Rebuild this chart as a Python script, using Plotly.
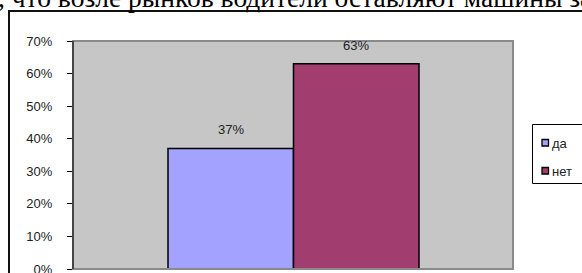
import plotly.graph_objects as go

# data
categories = ["да", "нет"]
values = [0.37, 0.63]
colors = ["#A3A3FF", "#A23D70"]
y_ticks = [0, 0.1, 0.2, 0.3, 0.4, 0.5, 0.6, 0.7]
y_tick_labels = ["0%", "10%", "20%", "30%", "40%", "50%", "60%", "70%"]
header_text = ", что возле рынков водители оставляют машины за"

W, H = 582, 273
L, R, T, B = 73, 513, 41, 269  # plot area px


def px_x(p):
    return (p - L) / (R - L)


def px_y(p):
    return (B - p) / (B - T)


FONT = dict(family="Arial, Liberation Sans", size=13, color="#222")

fig = go.Figure()
for i, (cat, val, col) in enumerate(zip(categories, values, colors)):
    fig.add_trace(go.Bar(
        x=[i], y=[val], width=1, name=cat,
        marker=dict(color=col, line=dict(color="black", width=1.5)),
        showlegend=False, hoverinfo="skip",
    ))
    fig.add_annotation(x=i, y=val, text=f"{val:.0%}", showarrow=False,
                       yanchor="bottom", yshift=9, font=FONT)

shapes = []
# outer chart border
shapes.append(dict(type="path", xref="paper", yref="paper",
                   path=f"M {px_x(9)} {px_y(280)} L {px_x(9)} {px_y(11)} L {px_x(590)} {px_y(11)}",
                   line=dict(color="#111111", width=2), layer="above"))
# plot area border (gray)
shapes.append(dict(type="rect", xref="paper", yref="paper", x0=0, x1=1, y0=0, y1=1,
                   line=dict(color="#8a8a8a", width=2), layer="above"))
# left axis line
shapes.append(dict(type="path", xref="paper", yref="paper",
                   path="M 0 0 L 0 1",
                   line=dict(color="black", width=1), layer="above"))
# legend box
shapes.append(dict(type="rect", xref="paper", yref="paper",
                   x0=px_x(532.5), x1=px_x(640), y0=px_y(124.5), y1=px_y(183.5),
                   line=dict(color="black", width=1), fillcolor="white"))
legend_y = [143, 171]
for cat, col, ly in zip(categories, colors, legend_y):
    shapes.append(dict(type="rect", xref="paper", yref="paper",
                       x0=px_x(542), x1=px_x(548.5), y0=px_y(ly - 3.5), y1=px_y(ly + 3),
                       line=dict(color="black", width=1.3), fillcolor=col))
    fig.add_annotation(xref="paper", yref="paper", x=px_x(550), y=px_y(ly),
                       xanchor="left", yanchor="middle", text=cat, showarrow=False,
                       font=FONT)

# cropped document text line at the top
fig.add_annotation(xref="paper", yref="paper", x=px_x(-4), y=px_y(15),
                   xanchor="left", yanchor="bottom", text=header_text, showarrow=False,
                   font=dict(family="Liberation Serif, Times New Roman", size=27.5, color="black"))

fig.update_layout(
    width=W, height=H,
    margin=dict(l=L, r=W - R, t=T, b=H - B, pad=0, autoexpand=False),
    paper_bgcolor="white", plot_bgcolor="#C6C6C6",
    barmode="overlay", bargap=0,
    shapes=shapes, showlegend=False,
    xaxis=dict(range=[-1.257, 2.249], showticklabels=False, showgrid=False,
               zeroline=False, showline=False, ticks="", fixedrange=True),
    yaxis=dict(range=[0, 0.7], tickvals=y_ticks, ticktext=y_tick_labels,
               showgrid=False, zeroline=False, showline=False, fixedrange=True,
               ticks="outside", ticklen=5, tickcolor="black", tickwidth=1,
               tickfont=FONT, ticklabelstandoff=12, ticklabeloverflow="allow"),
)

fig.write_html("out.html", config={"displayModeBar": False, "staticPlot": True},
               post_script="document.body.style.margin='0';document.body.style.overflow='hidden';")
